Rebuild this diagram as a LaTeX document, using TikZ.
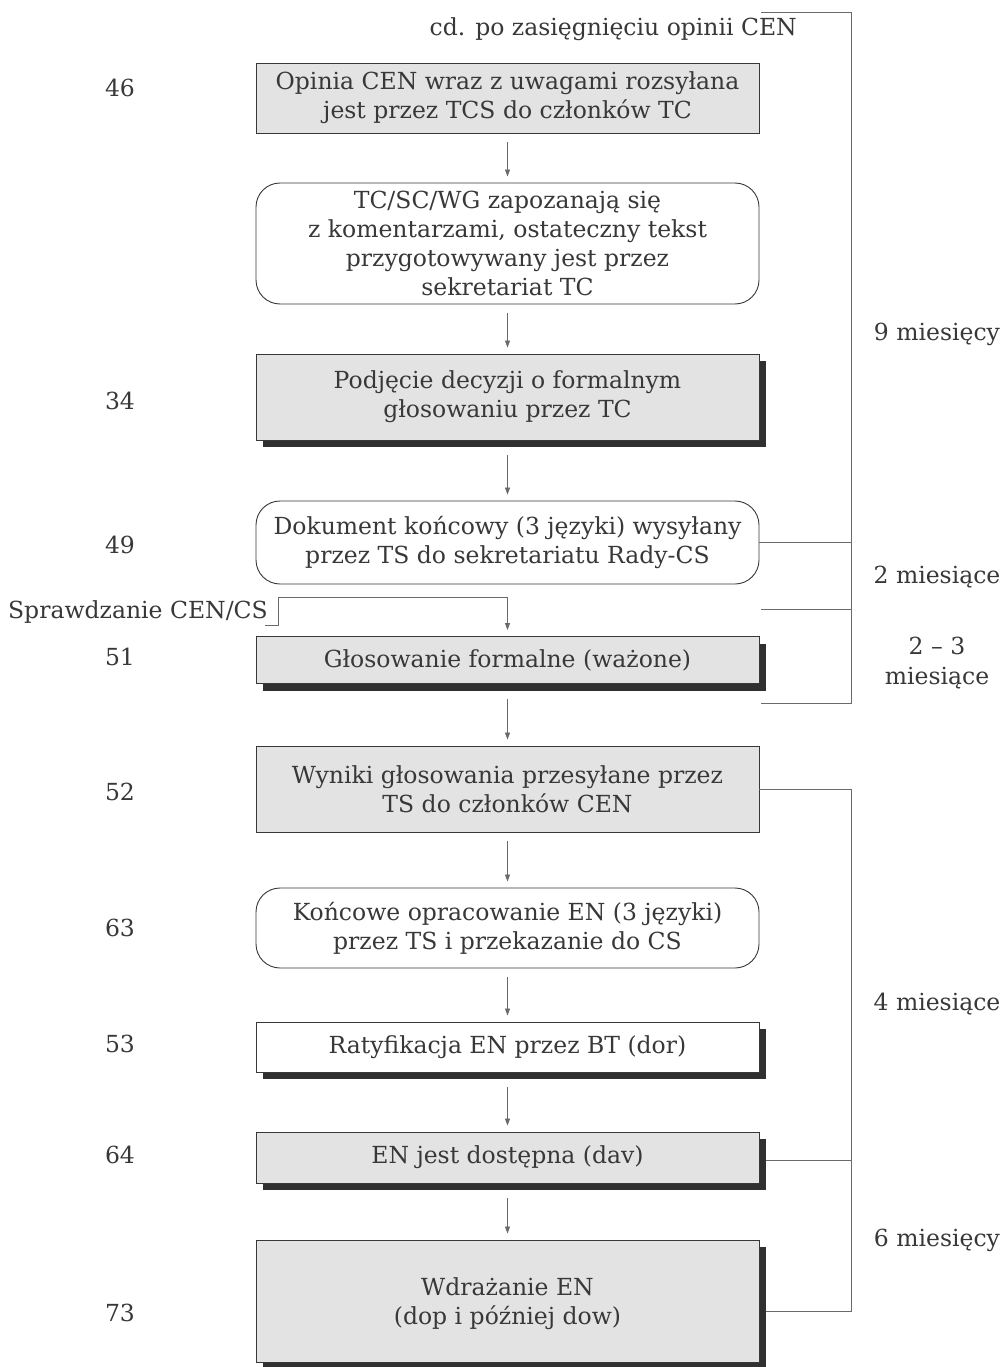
\documentclass[tikz,border=0pt]{standalone}
\usepackage{fontspec}
\setmainfont{DejaVu Serif}
\usetikzlibrary{arrows.meta,shadows}
\definecolor{boxgray}{HTML}{E3E3E3}
\definecolor{ink}{HTML}{383838}
\definecolor{shade}{HTML}{303030}
\definecolor{linec}{HTML}{6A6A6A}
\begin{document}
\begin{tikzpicture}[x=1pt,y=-1pt,
  every node/.style={text=ink, font=\fontsize{23.5}{29}\selectfont, align=center, inner sep=0pt},
  box/.style={draw=ink, line width=0.9pt, minimum width=503pt, anchor=center},
  gbox/.style={box, fill=boxgray},
  wbox/.style={box, fill=white},
  rbox/.style={box, fill=white, rounded corners=24pt},
  shad/.style={drop shadow={shadow xshift=7pt, shadow yshift=-7pt, fill=shade, opacity=1}},
  arr/.style={draw=linec, line width=0.8pt, shorten <=9pt, shorten >=6pt, -{Triangle[length=7pt,width=5pt]}},
  brk/.style={draw=linec, line width=0.8pt},
  num/.style={anchor=center}]
\useasboundingbox (0,0) rectangle (1006,1367);
\fill[white] (0,0) rectangle (1006,1367);

% top note
\node[anchor=east] (note) at (797,29) {cd. po zasięgnięciu opinii CEN};

% boxes
\node[gbox, minimum height=70pt] (b46) at (507.5,98) {Opinia CEN wraz z uwagami rozsyłana\\jest przez TCS do członków TC};
\node[rbox, minimum height=121pt] (b2) at (507.5,243.5) {TC/SC/WG zapozanają się\\z komentarzami, ostateczny tekst\\przygotowywany jest przez\\sekretariat TC};
\node[gbox, shad, minimum height=86pt] (b34) at (507.5,397) {Podjęcie decyzji o formalnym\\głosowaniu przez TC};
\node[rbox, minimum height=83pt] (b49) at (507.5,542.5) {Dokument końcowy (3 języki) wysyłany\\przez TS do sekretariatu Rady-CS};
\node[gbox, shad, minimum height=47pt] (b51) at (507.5,660) {Głosowanie formalne (ważone)};
\node[gbox, minimum height=86pt] (b52) at (507.5,789) {Wyniki głosowania przesyłane przez\\TS do członków CEN};
\node[rbox, minimum height=80pt] (b63) at (507.5,928) {Końcowe opracowanie EN (3 języki)\\przez TS i przekazanie do CS};
\node[wbox, shad, minimum height=50pt] (b53) at (507.5,1047) {Ratyfikacja EN przez BT (dor)};
\node[gbox, shad, minimum height=51pt] (b64) at (507.5,1157.5) {EN jest dostępna (dav)};
\node[gbox, shad, minimum height=122pt, text depth=-16pt] (b73) at (507.5,1301) {Wdrażanie EN\\(dop i później dow)};

% step numbers
\node[num] (n46) at (120,88) {46};
\node[num] (n34) at (120,401) {34};
\node[num] (n49) at (120,545) {49};
\node[num] (n51) at (120,657) {51};
\node[num] (n52) at (120,792) {52};
\node[num] (n63) at (120,928) {63};
\node[num] (n53) at (120,1044) {53};
\node[num] (n64) at (120,1155) {64};
\node[num] (n73) at (120,1313) {73};

% connectors
\draw[arr] (b46) -- (b2);
\draw[arr] (b2) -- (b34);
\draw[arr, shorten <=15pt] (b34) -- (b49);
\coordinate (sj) at (507.5,597);
\draw[arr, shorten <=0pt] (sj) -- (b51);
\draw[arr, shorten <=15pt] (b51) -- (b52);
\draw[arr] (b52) -- (b63);
\draw[arr] (b63) -- (b53);
\draw[arr, shorten <=15pt] (b53) -- (b64);
\draw[arr, shorten <=15pt] (b64) -- (b73);

% Sprawdzanie CEN/CS
\node[anchor=east] (spr) at (268,612) {Sprawdzanie CEN/CS};
\draw[brk] (265,625) -- (278,625) -- (278,597) -- (sj);

% right brackets
\coordinate (t0) at (761,12.5);
\coordinate (t1) at (761,609);
\coordinate (t2) at (761,703);
\draw[brk] (t0) -- (851,12.5) -- (851,703) -- (t2);
\draw[brk] (b49.east) -- (851,542.5);
\draw[brk] (t1) -- (851,609);
\coordinate (t3) at (766,1160);
\coordinate (t4) at (766,1311);
\draw[brk] (b52.east) -- (851,789) -- (851,1311) -- (t4);
\draw[brk] (t3) -- (851,1160);

\node (m9) at (937,334) {9 miesięcy};
\node (m2) at (937,577) {2 miesiące};
\node[font=\fontsize{23.5}{30}\selectfont] (m23) at (937,663) {2 – 3\\miesiące};
\node (m4) at (937,1004) {4 miesiące};
\node (m6) at (937,1240) {6 miesięcy};
\end{tikzpicture}
\end{document}
